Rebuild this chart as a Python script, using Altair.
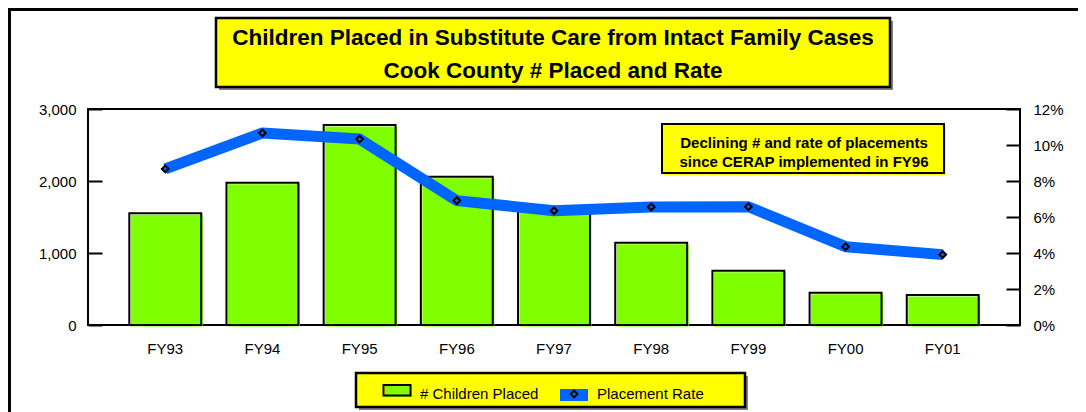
import altair as alt
import pandas as pd

# ---- data ----
years = ["FY93", "FY94", "FY95", "FY96", "FY97", "FY98", "FY99", "FY00", "FY01"]
children_placed = [1551, 1976, 2778, 2060, 1580, 1143, 754, 449, 417]
placement_rate = [0.0867, 0.1067, 0.1033, 0.0691, 0.0635, 0.0656, 0.0657, 0.0435, 0.0391]
left_ticks = [0, 1000, 2000, 3000]
right_ticks = [0, 0.02, 0.04, 0.06, 0.08, 0.10, 0.12]

title_lines = ["Children Placed in Substitute Care from Intact Family Cases",
               "Cook County # Placed and Rate"]
note_lines = ["Declining # and rate of placements",
              "since CERAP implemented in FY96"]
legend_labels = ["# Children Placed", "Placement Rate"]

GREEN = "#80FF00"
BLUE = "#0066FF"
YELLOW = "#FFFF00"
FONT = "Liberation Sans"

W, H = 932, 216
PAD = {"left": 80, "top": 101, "right": 58, "bottom": 87}
TICK = 14

df = pd.DataFrame({"year": years, "children": children_placed, "rate": placement_rate})
one = pd.DataFrame({"k": [0]})

xenc = alt.X("year:N", sort=None, title=None,
             scale=alt.Scale(paddingInner=0.26, paddingOuter=0.425),
             axis=alt.Axis(labelFont=FONT, labelFontSize=15, labelColor="black",
                           labelAngle=0, ticks=False, domain=False,
                           labelPadding=16))

lscale = alt.Scale(domain=[0, 3000], nice=False)
rscale = alt.Scale(domain=[0, 0.12], nice=False)

# axes pulled inside the frame by the tick length so that the ticks point inward
laxis = alt.Axis(values=left_ticks, format=",d", labelFont=FONT, labelFontSize=15,
                 labelColor="black", ticks=True, tickSize=TICK, tickWidth=2,
                 tickColor="black", domain=False, grid=False, labelPadding=12,
                 title=None, orient="left", offset=-TICK)
raxis = alt.Axis(values=right_ticks, format=".0%", labelFont=FONT, labelFontSize=15,
                 labelColor="black", ticks=True, tickSize=TICK, tickWidth=2,
                 tickColor="black", domain=False, grid=False, labelPadding=13,
                 title=None, orient="right", offset=-TICK)

base = alt.Chart(df)


def box(x1, x2, y1, y2, **kw):
    return alt.Chart(one).mark_rect(**kw).encode(
        x=alt.value(x1), x2=alt.value(x2), y=alt.value(y1), y2=alt.value(y2))


def txt(s, x, y, size, bold=False, align="center"):
    return alt.Chart(one).mark_text(text=s, font=FONT, fontSize=size,
                                    fontWeight="bold" if bold else "normal",
                                    align=align, baseline="alphabetic", color="black").encode(
        x=alt.value(x), y=alt.value(y))


deco = [
    # outer frame (left and top edges visible)
    alt.Chart(one).mark_rule(color="black", strokeWidth=4).encode(
        x=alt.value(-79), y=alt.value(-101), y2=alt.value(H + PAD["bottom"])),
    alt.Chart(one).mark_rule(color="black", strokeWidth=4).encode(
        x=alt.value(-80), x2=alt.value(W + PAD["right"]), y=alt.value(-100)),
    # title box
    box(131, 805, -88, -19, fill="#808080"),
    box(128, 802, -91, -22, fill=YELLOW, stroke="black", strokeWidth=2.5),
    txt(title_lines[0], 465, -64, 22.5, bold=True),
    txt(title_lines[1], 465, -31.5, 22.5, bold=True),
    # annotation box
    box(576, 858, 17, 66, fill=YELLOW),
    box(574, 856, 15, 64, fill=YELLOW, stroke="black", strokeWidth=2),
    txt(note_lines[0], 716, 38.5, 15, bold=True),
    txt(note_lines[1], 716, 57.5, 15, bold=True),
    # legend box
    box(271, 660, 267, 301, fill="#808080"),
    box(268, 657, 264, 298, fill=YELLOW, stroke="black", strokeWidth=2.5),
    box(297, 324, 277, 288, fill=GREEN),
    box(295.5, 322.5, 276, 286.5, fill="white", fillOpacity=0, stroke="black", strokeWidth=2),
    txt(legend_labels[0], 332, 290, 15, align="left"),
    box(472, 500, 280, 292, fill=BLUE),
    alt.Chart(one).mark_point(shape="diamond", filled=True, fill=BLUE, stroke="black",
                              strokeWidth=2, size=45, opacity=1).encode(
        x=alt.value(486), y=alt.value(285)),
    txt(legend_labels[1], 509, 290, 15, align="left"),
]

bar_fill = base.mark_bar(color=GREEN, xOffset=1.5, yOffset=1.5).encode(
    x=xenc, y=alt.Y("children:Q", scale=lscale, axis=laxis))
bar_line = base.mark_bar(fill="white", fillOpacity=0, stroke="black", strokeWidth=2).encode(
    x=xenc, y=alt.Y("children:Q", scale=lscale, axis=laxis))
left_layer = alt.layer(bar_fill, bar_line, *deco)

line = base.mark_line(color=BLUE, strokeWidth=11, strokeCap="butt", strokeJoin="round").encode(
    x=xenc, y=alt.Y("rate:Q", scale=rscale, axis=raxis))
pts = base.mark_point(shape="diamond", filled=True, fill=BLUE, stroke="black",
                      strokeWidth=2, size=45, opacity=1).encode(
    x=xenc, y=alt.Y("rate:Q", scale=rscale, axis=raxis))
right_layer = alt.layer(line, pts)

chart = alt.layer(left_layer, right_layer).resolve_scale(y="independent").properties(
    width=W, height=H,
    autosize=alt.AutoSizeParams(type="none"),
    padding=PAD,
    background="white",
).configure_view(stroke="black", strokeWidth=2)

chart.save("out.html", embed_options={"renderer": "svg", "actions": False})
